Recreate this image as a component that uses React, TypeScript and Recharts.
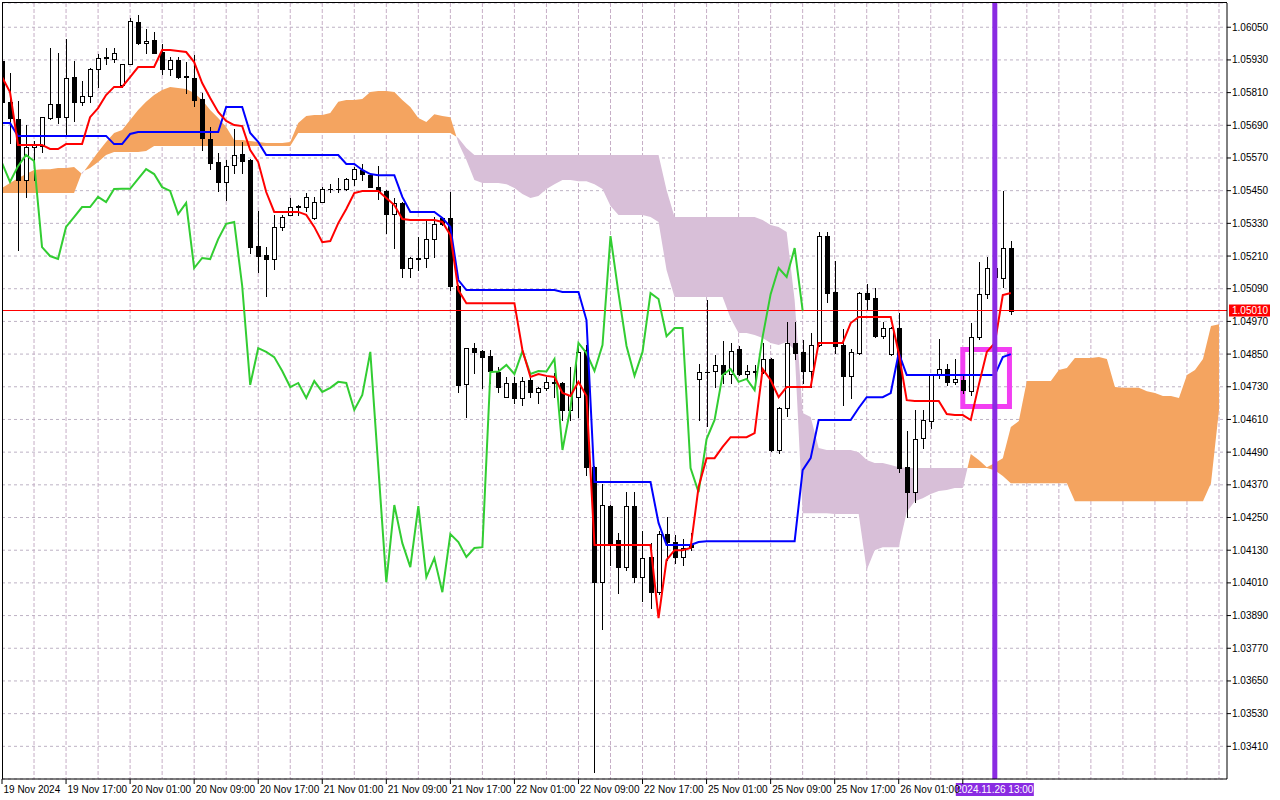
import React from "react";
import {
  ComposedChart,
  Area,
  Bar,
  Line,
  XAxis,
  YAxis,
  CartesianGrid,
  ReferenceLine,
  ReferenceArea,
} from "recharts";

// EURUSD H1, 19-26 Nov 2024, Ichimoku Kinko Hyo (9, 26, 52)

// open, high, low, close per hourly bar
const candles: [number, number, number, number][] = [
  [1.05926, 1.05937, 1.05768, 1.05776], [1.05776, 1.05882, 1.05625, 1.05717],
  [1.05713, 1.05779, 1.05232, 1.05489], [1.05489, 1.05691, 1.05427, 1.0561],
  [1.0561, 1.05632, 1.05489, 1.05618], [1.05614, 1.0572, 1.05592, 1.0572],
  [1.05717, 1.05974, 1.05713, 1.05768], [1.05768, 1.05955, 1.05698, 1.0572],
  [1.0572, 1.06007, 1.05654, 1.05864], [1.05867, 1.05926, 1.05706, 1.05776],
  [1.05776, 1.05853, 1.05764, 1.05798], [1.05798, 1.059, 1.05776, 1.05897],
  [1.05897, 1.05952, 1.05831, 1.05937], [1.05937, 1.05974, 1.05915, 1.05939],
  [1.05933, 1.05974, 1.05922, 1.05955], [1.05838, 1.05915, 1.05831, 1.05915],
  [1.05915, 1.06084, 1.05915, 1.06073], [1.06069, 1.06095, 1.05988, 1.05992],
  [1.05992, 1.06044, 1.05955, 1.05999], [1.06003, 1.06033, 1.05955, 1.05955],
  [1.05959, 1.05988, 1.05878, 1.05897], [1.05897, 1.05941, 1.05875, 1.0593],
  [1.0593, 1.05941, 1.05864, 1.05867], [1.05871, 1.05922, 1.05809, 1.05869],
  [1.05864, 1.05948, 1.05761, 1.05783], [1.05787, 1.05809, 1.05599, 1.05643],
  [1.0564, 1.05684, 1.05529, 1.05552], [1.05555, 1.05588, 1.05449, 1.05482],
  [1.05482, 1.05563, 1.05416, 1.0554], [1.05544, 1.05676, 1.05515, 1.05581],
  [1.05585, 1.05629, 1.05515, 1.05559], [1.05563, 1.05566, 1.05221, 1.05243],
  [1.05247, 1.05375, 1.05151, 1.0521], [1.05214, 1.05243, 1.05063, 1.05199],
  [1.05199, 1.05361, 1.05162, 1.05317], [1.05317, 1.05361, 1.05305, 1.05353],
  [1.05361, 1.05423, 1.05361, 1.0539], [1.05394, 1.05398, 1.05361, 1.0539],
  [1.0539, 1.05441, 1.05375, 1.05427], [1.0535, 1.05427, 1.05346, 1.05408],
  [1.05408, 1.05463, 1.05408, 1.05456], [1.05456, 1.05474, 1.05445, 1.05457],
  [1.05456, 1.05496, 1.05445, 1.05457], [1.05456, 1.05496, 1.05452, 1.05493],
  [1.05493, 1.05537, 1.05471, 1.05529], [1.05526, 1.05548, 1.05489, 1.05511],
  [1.05507, 1.05515, 1.05463, 1.05463], [1.05463, 1.0554, 1.05419, 1.05449],
  [1.05449, 1.05452, 1.05294, 1.05364], [1.05364, 1.05423, 1.05239, 1.05405],
  [1.05405, 1.05408, 1.05133, 1.05166], [1.05166, 1.05206, 1.05133, 1.05203],
  [1.05203, 1.0528, 1.05159, 1.05199], [1.05203, 1.05342, 1.0517, 1.05272],
  [1.05272, 1.05353, 1.05206, 1.05328], [1.0535, 1.05353, 1.05324, 1.05328],
  [1.0535, 1.05445, 1.05085, 1.051], [1.051, 1.05104, 1.04711, 1.04737],
  [1.0474, 1.04872, 1.04619, 1.04872], [1.04872, 1.04891, 1.04781, 1.04858],
  [1.04861, 1.04865, 1.04726, 1.04839], [1.04843, 1.04865, 1.04744, 1.04788],
  [1.04784, 1.04803, 1.04711, 1.04729], [1.04692, 1.04766, 1.04692, 1.04744],
  [1.04744, 1.04766, 1.0467, 1.04689], [1.04689, 1.04766, 1.04663, 1.04751],
  [1.04755, 1.04766, 1.04692, 1.04711], [1.04711, 1.04729, 1.0467, 1.04726],
  [1.04726, 1.04766, 1.04718, 1.04748], [1.04748, 1.04781, 1.04692, 1.04744],
  [1.04744, 1.04748, 1.04608, 1.04645], [1.04645, 1.04803, 1.04608, 1.047],
  [1.04692, 1.04894, 1.04619, 1.04858], [1.04865, 1.04883, 1.04406, 1.04435],
  [1.04435, 1.04439, 1.03315, 1.04013], [1.04013, 1.04373, 1.0384, 1.04296],
  [1.04292, 1.04296, 1.04075, 1.04156], [1.04167, 1.04193, 1.03973, 1.04068],
  [1.04068, 1.04343, 1.04057, 1.04292], [1.04292, 1.04343, 1.04013, 1.04031],
  [1.04031, 1.042, 1.03943, 1.04101], [1.04105, 1.04156, 1.03917, 1.03976],
  [1.03976, 1.042, 1.0397, 1.04189], [1.04189, 1.04252, 1.04094, 1.0416],
  [1.0416, 1.04186, 1.04083, 1.04105], [1.04105, 1.04171, 1.04075, 1.04138],
  [1.04149, 1.04193, 1.0413, 1.04141], [1.04759, 1.04814, 1.04608, 1.04784],
  [1.04784, 1.05048, 1.04586, 1.04786], [1.04788, 1.04847, 1.04729, 1.0481],
  [1.0481, 1.04898, 1.04744, 1.04777], [1.04777, 1.04891, 1.04744, 1.04861],
  [1.04869, 1.0488, 1.04773, 1.04777], [1.04777, 1.0481, 1.04755, 1.04788],
  [1.04788, 1.0481, 1.04748, 1.04786], [1.04788, 1.04891, 1.04781, 1.04832],
  [1.04832, 1.04836, 1.04494, 1.04498], [1.04498, 1.04656, 1.04487, 1.04652],
  [1.04652, 1.04968, 1.04622, 1.04891], [1.04891, 1.04968, 1.04832, 1.04854],
  [1.04858, 1.04902, 1.04744, 1.04788], [1.04788, 1.04927, 1.04729, 1.04883],
  [1.04883, 1.05298, 1.0488, 1.05283], [1.05283, 1.05298, 1.05041, 1.05074],
  [1.05078, 1.05192, 1.04854, 1.0488], [1.04883, 1.04942, 1.04663, 1.0477],
  [1.0477, 1.04869, 1.04689, 1.04858], [1.04854, 1.05078, 1.0485, 1.05074],
  [1.05074, 1.05107, 1.05012, 1.05052], [1.05056, 1.05093, 1.04913, 1.04916],
  [1.04916, 1.04968, 1.0491, 1.04946], [1.0485, 1.0495, 1.04847, 1.04946],
  [1.04946, 1.05001, 1.04417, 1.04432], [1.04435, 1.04567, 1.04252, 1.04343],
  [1.04343, 1.04645, 1.04307, 1.04538], [1.04542, 1.04645, 1.04505, 1.04608],
  [1.04604, 1.04773, 1.04578, 1.04773], [1.04773, 1.04905, 1.04762, 1.04795],
  [1.04795, 1.04814, 1.04737, 1.04748], [1.04748, 1.04832, 1.0474, 1.04759],
  [1.04755, 1.0477, 1.04707, 1.04718], [1.04714, 1.04964, 1.047, 1.04913],
  [1.04913, 1.05188, 1.04905, 1.0507], [1.0507, 1.05206, 1.05056, 1.05166],
  [1.05166, 1.05195, 1.05104, 1.05133], [1.05129, 1.05449, 1.05096, 1.05239],
  [1.05239, 1.05265, 1.04997, 1.0501],
];

const tenkan = [
  1.05867, 1.05812, 1.05618, 1.05618, 1.05618, 1.05618, 1.05603, 1.05603, 1.05621, 1.05621,
  1.05621, 1.0572, 1.05753, 1.05801, 1.05831, 1.05831, 1.05867, 1.05904, 1.05904, 1.05904,
  1.05966, 1.05966, 1.05963, 1.05959, 1.05922, 1.05845, 1.0579, 1.05739, 1.05706, 1.05691,
  1.05687, 1.05599, 1.05555, 1.05445, 1.05372, 1.05372, 1.05372, 1.05372, 1.05361, 1.05317,
  1.05261, 1.05265, 1.05331, 1.05383, 1.05441, 1.05449, 1.05449, 1.05449, 1.05423, 1.05397,
  1.05346, 1.05342, 1.05342, 1.05342, 1.05342, 1.05335, 1.05287, 1.05085, 1.05037, 1.05037,
  1.05037, 1.05037, 1.05037, 1.05037, 1.05037, 1.04865, 1.04766, 1.04777, 1.0477, 1.04766,
  1.04707, 1.04696, 1.04748, 1.04696, 1.04149, 1.04149, 1.04149, 1.04149, 1.04149, 1.04149,
  1.04149, 1.04149, 1.03881, 1.04094, 1.0413, 1.0413, 1.04138, 1.04362, 1.04468, 1.04468,
  1.04509, 1.04545, 1.04545, 1.04545, 1.0456, 1.04795, 1.04755, 1.04692, 1.04729, 1.04729,
  1.04729, 1.04729, 1.04891, 1.04891, 1.04891, 1.04891, 1.04964, 1.04986, 1.04986, 1.04986,
  1.04986, 1.04986, 1.04854, 1.04681, 1.04678, 1.04678, 1.04678, 1.04678, 1.0463, 1.04626,
  1.04626, 1.04608, 1.04737, 1.04858, 1.04891, 1.05067, 1.05074,
];

const kijun = [
  1.05698, 1.05698, 1.05651, 1.05651, 1.05651, 1.05651, 1.05651, 1.05651, 1.05651, 1.05651,
  1.05651, 1.05651, 1.05651, 1.05651, 1.05621, 1.05621, 1.05658, 1.05665, 1.05665, 1.05665,
  1.05665, 1.05665, 1.05665, 1.05665, 1.05665, 1.05665, 1.05665, 1.05665, 1.05757, 1.05757,
  1.05757, 1.05662, 1.05629, 1.05581, 1.05581, 1.05581, 1.05581, 1.05581, 1.05581, 1.05581,
  1.05581, 1.05581, 1.05581, 1.05548, 1.05548, 1.05526, 1.05511, 1.05507, 1.05507, 1.05507,
  1.05427, 1.05372, 1.05372, 1.05372, 1.05372, 1.0535, 1.05317, 1.05122, 1.05085, 1.05085,
  1.05085, 1.05085, 1.05085, 1.05085, 1.05085, 1.05085, 1.05085, 1.05085, 1.05085, 1.05085,
  1.05078, 1.05078, 1.05078, 1.04975, 1.0438, 1.0438, 1.0438, 1.0438, 1.0438, 1.0438,
  1.0438, 1.0438, 1.0423, 1.04149, 1.04149, 1.04149, 1.04149, 1.0416, 1.04163, 1.04163,
  1.04163, 1.04163, 1.04163, 1.04163, 1.04163, 1.04163, 1.04163, 1.04163, 1.04163, 1.04163,
  1.04424, 1.04468, 1.04608, 1.04608, 1.04608, 1.04608, 1.04608, 1.04652, 1.04692, 1.04692,
  1.04692, 1.04707, 1.04854, 1.04773, 1.04773, 1.04773, 1.04773, 1.04773, 1.04773, 1.04773,
  1.04773, 1.04773, 1.04773, 1.04773, 1.04773, 1.04839, 1.0485,
];

// lagging span, drawn 26 bars back
const chikou = [
  1.05552, 1.05482, 1.0554, 1.05581, 1.05559, 1.05243, 1.0521, 1.05199, 1.05317, 1.05353,
  1.0539, 1.0539, 1.05427, 1.05408, 1.05456, 1.05457, 1.05457, 1.05493, 1.05529, 1.05511,
  1.05463, 1.05449, 1.05364, 1.05405, 1.05166, 1.05203, 1.05199, 1.05272, 1.05328, 1.05335,
  1.051, 1.04737, 1.04872, 1.04858, 1.04839, 1.04788, 1.04729, 1.04744, 1.04689, 1.04751,
  1.04711, 1.04726, 1.04748, 1.04744, 1.04645, 1.047, 1.04858, 1.04435, 1.04013, 1.04296,
  1.04156, 1.04068, 1.04292, 1.04031, 1.04101, 1.03976, 1.04189, 1.0416, 1.04105, 1.04138,
  1.04141, 1.04784, 1.04786, 1.0481, 1.04777, 1.04861, 1.04777, 1.04788, 1.04786, 1.04832,
  1.04498, 1.04652, 1.04891, 1.04854, 1.04788, 1.04883, 1.05283, 1.05074, 1.0488, 1.0477,
  1.04858, 1.05074, 1.05052, 1.04916, 1.04946, 1.04946, 1.04432, 1.04343, 1.04538, 1.04608,
  1.04773, 1.04795, 1.04748, 1.04759, 1.04718, 1.04913, 1.0507, 1.05166, 1.05133, 1.05239,
  1.0501,
];

// leading spans, drawn 26 bars ahead
const spanA = [
  1.0546, 1.05478, 1.05496, 1.05511, 1.05526, 1.05529, 1.05529, 1.05533, 1.05533, 1.05537,
  1.05511, 1.05552, 1.05592, 1.05629, 1.05662, 1.05673, 1.05709, 1.05746, 1.05776, 1.05801,
  1.0582, 1.05831, 1.05827, 1.05823, 1.05809, 1.05783, 1.05746, 1.05717, 1.05684, 1.05636,
  1.05636, 1.05632, 1.05629, 1.05625, 1.05625, 1.05625, 1.05629, 1.05698, 1.05724, 1.05728,
  1.05728, 1.05735, 1.05776, 1.05783, 1.05783, 1.05787, 1.05812, 1.05816, 1.05816, 1.05812,
  1.05783, 1.05757, 1.05717, 1.05702, 1.05731, 1.05724, 1.0572, 1.05625, 1.05563, 1.05489,
  1.05478, 1.05478, 1.05478, 1.05474, 1.0546, 1.05438, 1.05423, 1.0543, 1.05456, 1.05474,
  1.05489, 1.05489, 1.05485, 1.05485, 1.05474, 1.05456, 1.05394, 1.05361, 1.05361, 1.05361,
  1.05361, 1.05353, 1.05335, 1.05159, 1.0506, 1.0506, 1.0506, 1.0506, 1.0506, 1.0506,
  1.0506, 1.04982, 1.04927, 1.04927, 1.0492, 1.04909, 1.04891, 1.04883, 1.04894, 1.04865,
  1.04266, 1.04266, 1.04266, 1.04266, 1.04263, 1.04263, 1.04263, 1.04263, 1.04057, 1.0413,
  1.04141, 1.04141, 1.04141, 1.0427, 1.0431, 1.04321, 1.04336, 1.04347, 1.04351, 1.04358,
  1.04358, 1.04483, 1.04461, 1.04435, 1.0445, 1.04468, 1.04582, 1.04604, 1.04751, 1.04751,
  1.04751, 1.04751, 1.04792, 1.04799, 1.04836, 1.04836, 1.04836, 1.04839, 1.04832, 1.04729,
  1.04726, 1.04726, 1.04726, 1.04714, 1.04707, 1.04696, 1.04696, 1.04689, 1.04773, 1.04792,
  1.04832, 1.04953, 1.0496,
];

const spanB = [
  1.05441, 1.05441, 1.05441, 1.05441, 1.05441, 1.05441, 1.05441, 1.05441, 1.05441, 1.05441,
  1.05518, 1.05533, 1.05555, 1.05581, 1.05592, 1.05592, 1.05592, 1.05592, 1.05596, 1.05614,
  1.05614, 1.05614, 1.05614, 1.05614, 1.05614, 1.05614, 1.05614, 1.05614, 1.05614, 1.05614,
  1.05614, 1.05614, 1.05614, 1.05614, 1.05614, 1.05614, 1.05614, 1.05662, 1.05662, 1.05662,
  1.05662, 1.05662, 1.05662, 1.05662, 1.05662, 1.05662, 1.05662, 1.05662, 1.05662, 1.05662,
  1.05662, 1.05662, 1.05662, 1.05662, 1.05662, 1.05662, 1.05662, 1.05643, 1.05607, 1.05581,
  1.05581, 1.05581, 1.05581, 1.05581, 1.05581, 1.05581, 1.05581, 1.05581, 1.05581, 1.05581,
  1.05581, 1.05581, 1.05581, 1.05581, 1.05581, 1.05581, 1.05581, 1.05581, 1.05581, 1.05581,
  1.05581, 1.05581, 1.05581, 1.05452, 1.05353, 1.05353, 1.05353, 1.05353, 1.05353, 1.05353,
  1.05353, 1.05353, 1.05353, 1.05353, 1.05353, 1.05342, 1.05324, 1.05317, 1.05298, 1.05048,
  1.04634, 1.04619, 1.04505, 1.04498, 1.04498, 1.04498, 1.04498, 1.0449, 1.04461, 1.0445,
  1.0445, 1.04443, 1.04435, 1.04432, 1.04432, 1.04432, 1.04432, 1.04432, 1.04432, 1.04432,
  1.04432, 1.04432, 1.04432, 1.04432, 1.04424, 1.04402, 1.04376, 1.04376, 1.04376, 1.04376,
  1.04376, 1.04376, 1.04376, 1.04376, 1.0431, 1.0431, 1.0431, 1.0431, 1.0431, 1.0431,
  1.0431, 1.0431, 1.0431, 1.0431, 1.0431, 1.0431, 1.0431, 1.0431, 1.0431, 1.0431,
  1.0431, 1.04376, 1.04645,
];

// where the two spans cross (bar position, price)
const crossBars = [9.93, 10.29, 56.76, 120.59];
const crossPrices = [1.05513, 1.05523, 1.05648, 1.04432];

const tickBars = [0, 8, 16, 24, 32, 40, 48, 56, 64, 72, 80, 88, 96, 104, 112, 120];
const tickLabels = [
  "19 Nov 2024", "19 Nov 17:00", "20 Nov 01:00", "20 Nov 09:00", "20 Nov 17:00",
  "21 Nov 01:00", "21 Nov 09:00", "21 Nov 17:00", "22 Nov 01:00", "22 Nov 09:00",
  "22 Nov 17:00", "25 Nov 01:00", "25 Nov 09:00", "25 Nov 17:00", "26 Nov 01:00",
  "26 Nov 09:00",
];
const gridBars = [
  4, 8, 12, 16, 20, 24, 28, 32, 36, 40, 44, 48, 52, 56, 60, 64, 68, 72, 76,
  80, 84, 88, 92, 96, 100, 104, 108, 112, 116, 120, 124, 128, 132, 136, 140, 144, 148, 152,
];
const priceTicks = [
  1.0341, 1.0353, 1.0365, 1.0377, 1.0389, 1.0401, 1.0413, 1.0425, 1.0437, 1.0449, 1.0461, 1.0473,
  1.0485, 1.0497, 1.0509, 1.0521, 1.0533, 1.0545, 1.0557, 1.0569, 1.0581, 1.0593, 1.0605,
];

const lastPrice = 1.0501;
const nowBar = 124;
const nowLabel = "2024.11.26 13:00";
const coveredTick = 120;
const box = { x1: 120, x2: 125.83, y1: 1.04658, y2: 1.04867 };

const FONT = "'Liberation Sans', Arial, sans-serif";

const rows: any[] = [];
for (let k = 0; k < spanA.length; k++) {
  const row: any = { k };
  const cd = candles[k];
  if (cd) {
    row.o = cd[0];
    row.h = cd[1];
    row.l = cd[2];
    row.c = cd[3];
    row.range = [cd[2], cd[1]];
    row.tenkan = tenkan[k];
    row.kijun = kijun[k];
  }
  if (k < chikou.length) row.chikou = chikou[k];
  const a = spanA[k];
  const b = spanB[k];
  row.bull = a >= b ? [b, a] : null;
  row.bear = a < b ? [a, b] : null;
  rows.push(row);
}
crossBars.forEach((k, i) => {
  rows.push({ k, bull: [crossPrices[i], crossPrices[i]], bear: [crossPrices[i], crossPrices[i]] });
});
rows.sort((p, q) => p.k - q.k);

function Candle(props: any) {
  const { x, y, width, height, payload } = props;
  if (!payload || payload.o == null || !isFinite(y) || !isFinite(height)) return <g />;
  const { o, h, l, c } = payload;
  const top = Math.min(y, y + height);
  const span = Math.abs(height);
  const py = (v: number) => top + ((h - v) / (h - l)) * span;
  const cx = Math.round(x + width / 2);
  const bTop = Math.round(py(Math.max(o, c)));
  const bBot = Math.round(py(Math.min(o, c)));
  return (
    <g>
      <line
        x1={cx + 0.5}
        x2={cx + 0.5}
        y1={Math.round(py(h))}
        y2={Math.round(py(l)) + 1}
        stroke="#000"
        strokeWidth={1}
      />
      {bBot - bTop < 1 ? (
        <line x1={cx - 2} x2={cx + 3} y1={bTop + 0.5} y2={bTop + 0.5} stroke="#000" strokeWidth={1} />
      ) : (
        <rect
          x={cx - 1.5}
          y={bTop + 0.5}
          width={4}
          height={bBot - bTop}
          fill={c >= o ? "#fff" : "#000"}
          stroke="#000"
          strokeWidth={1}
        />
      )}
    </g>
  );
}

function XTick(props: any) {
  const { x, y, payload } = props;
  const i = tickBars.indexOf(payload.value);
  if (i < 0 || payload.value === coveredTick) return <g />;
  return (
    <text x={x + 1.5} y={y + 9} fontSize={10} fontFamily={FONT} fill="#000" textAnchor="start">
      {tickLabels[i]}
    </text>
  );
}

function YTick(props: any) {
  const { x, y, payload } = props;
  return (
    <text x={x} y={y + 3.5} fontSize={10} fontFamily={FONT} fill="#000" textAnchor="start">
      {Number(payload.value).toFixed(5)}
    </text>
  );
}

function PriceTag(props: any) {
  const vb = props.viewBox;
  const x = vb.x + vb.width + 2;
  const y = vb.y;
  return (
    <g>
      <rect x={x} y={y - 6} width={41} height={12} fill="#ff0000" />
      <text x={x + 3} y={y + 3.5} fontSize={10} fontFamily={FONT} fill="#fff">
        {lastPrice.toFixed(5)}
      </text>
    </g>
  );
}

function NowTag(props: any) {
  const vb = props.viewBox;
  const x = vb.x;
  const y = vb.y + vb.height;
  return (
    <g>
      <rect x={x - 39} y={y + 4} width={78} height={13} fill="#8a2be2" />
      <text x={x} y={y + 14} fontSize={10} fontFamily={FONT} fill="#fff" textAnchor="middle">
        {nowLabel}
      </text>
    </g>
  );
}

export default function App() {
  return (
    <div
      style={{
        position: "absolute",
        left: 0,
        top: 0,
        width: 1280,
        height: 800,
        background: "#fff",
        overflow: "hidden",
      }}
    >
      <ComposedChart
        width={1280}
        height={800}
        data={rows}
        margin={{ top: 3, right: 0, bottom: 0, left: 2 }}
      >
        <CartesianGrid vertical={false} stroke="#bdb2c4" strokeDasharray="3 3" />
        <CartesianGrid horizontal={false} verticalValues={gridBars} stroke="#c6aec6" strokeDasharray="4 2" />
        <Area
          dataKey="bull"
          type="linear"
          stroke="none"
          fill="#f4a460"
          fillOpacity={1}
          connectNulls={false}
          dot={false}
          activeDot={false}
          isAnimationActive={false}
        />
        <Area
          dataKey="bear"
          type="linear"
          stroke="none"
          fill="#d8bfd8"
          fillOpacity={1}
          connectNulls={false}
          dot={false}
          activeDot={false}
          isAnimationActive={false}
        />
        <ReferenceLine y={lastPrice} stroke="#ff0000" strokeWidth={1} label={(p: any) => <PriceTag {...p} />} />
        <Bar dataKey="range" barSize={5} shape={(p: any) => <Candle {...p} />} isAnimationActive={false} />
        <Line dataKey="chikou" type="linear" stroke="#32cd32" strokeWidth={2} dot={false} activeDot={false} connectNulls isAnimationActive={false} />
        <Line dataKey="kijun" type="linear" stroke="#0000ff" strokeWidth={2} dot={false} activeDot={false} connectNulls isAnimationActive={false} />
        <Line dataKey="tenkan" type="linear" stroke="#ff0000" strokeWidth={2} dot={false} activeDot={false} connectNulls isAnimationActive={false} />
        <ReferenceArea
          x1={box.x1}
          x2={box.x2}
          y1={box.y1}
          y2={box.y2}
          fill="none"
          fillOpacity={0}
          stroke="#f23ef2"
          strokeWidth={5}
        />
        <ReferenceLine x={nowBar} stroke="#8a2be2" strokeWidth={5} label={(p: any) => <NowTag {...p} />} />
        <XAxis
          dataKey="k"
          type="number"
          domain={[0, 153]}
          allowDataOverflow
          ticks={tickBars}
          interval={0}
          tick={XTick}
          tickSize={5}
          tickMargin={0}
          height={21}
          axisLine={{ stroke: "#000" }}
          tickLine={{ stroke: "#000" }}
        />
        <YAxis
          orientation="right"
          type="number"
          domain={[1.0329, 1.06139]}
          allowDataOverflow
          ticks={priceTicks}
          interval={0}
          tick={YTick}
          tickSize={4}
          tickMargin={1}
          width={53}
          axisLine={{ stroke: "#000" }}
          tickLine={{ stroke: "#000" }}
        />
      </ComposedChart>
      <div
        style={{
          position: "absolute",
          left: 2,
          top: 2,
          width: 1225,
          height: 777,
          borderTop: "1px solid #000",
          borderLeft: "1px solid #000",
          pointerEvents: "none",
          boxSizing: "border-box",
        }}
      />
    </div>
  );
}
